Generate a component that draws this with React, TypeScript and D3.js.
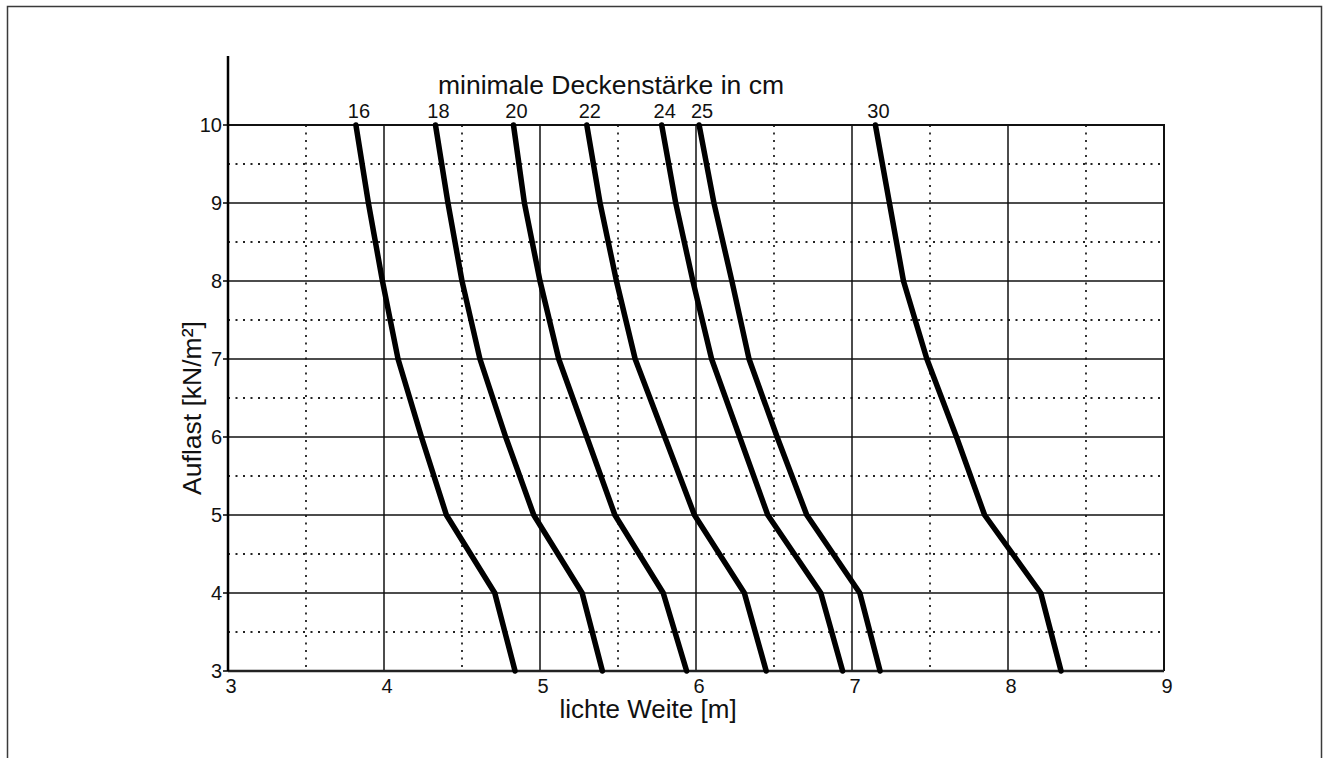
import React from "react"
import * as d3 from "d3"

// load levels (kN/m²) at which the span values were read
const loads = [10, 9, 8, 7, 6, 5, 4, 3]

const thicknesses = ["16", "18", "20", "22", "24", "25", "30"]

// lichte Weite [m] for each thickness, one value per load level
const span16 = [3.82, 3.9, 3.99, 4.09, 4.24, 4.4, 4.71, 4.84]
const span18 = [4.33, 4.41, 4.5, 4.615, 4.78, 4.96, 5.27, 5.4]
const span20 = [4.83, 4.9, 5.0, 5.12, 5.3, 5.48, 5.79, 5.94]
const span22 = [5.3, 5.385, 5.49, 5.61, 5.8, 5.99, 6.31, 6.45]
const span24 = [5.78, 5.87, 5.98, 6.1, 6.28, 6.46, 6.8, 6.94]
const span25 = [6.02, 6.115, 6.23, 6.34, 6.52, 6.71, 7.05, 7.18]
const span30 = [7.15, 7.24, 7.33, 7.48, 7.67, 7.85, 8.21, 8.34]

const spans = [span16, span18, span20, span22, span24, span25, span30]

const xTicks = [3, 4, 5, 6, 7, 8, 9]
const yTicks = [3, 4, 5, 6, 7, 8, 9, 10]
const xHalf = [3.5, 4.5, 5.5, 6.5, 7.5, 8.5]
const yHalf = [3.5, 4.5, 5.5, 6.5, 7.5, 8.5, 9.5]

const W = 1325
const H = 758
const font = "'Liberation Sans', Arial, sans-serif"

export default function App() {
  const x = d3.scaleLinear().domain([3, 9]).range([228, 1164])
  const y = d3.scaleLinear().domain([3, 10]).range([671, 125])

  const line = d3
    .line<[number, number]>()
    .x((d) => x(d[0]))
    .y((d) => y(d[1]))

  const x0 = x(3)
  const x1 = x(9)
  const y0 = y(3)
  const y1 = y(10)

  return (
    <div style={{ position: "absolute", left: 0, top: 0 }}>
      <svg width={W} height={H} style={{ display: "block", background: "#fff" }}>
        {/* outer frame */}
        <path
          d={`M7.5,${H} V6.5 H1321.5 V${H}`}
          fill="none"
          stroke="#3a3a3a"
          strokeWidth={1.5}
        />

        {/* dotted half grid */}
        {xHalf.map((v) => (
          <line
            key={"xh" + v}
            x1={x(v)}
            x2={x(v)}
            y1={y1}
            y2={y0}
            stroke="#222"
            strokeWidth={1.8}
            strokeDasharray="2,5.5"
          />
        ))}
        {yHalf.map((v) => (
          <line
            key={"yh" + v}
            x1={x0}
            x2={x1}
            y1={y(v)}
            y2={y(v)}
            stroke="#222"
            strokeWidth={1.8}
            strokeDasharray="2,5.5"
          />
        ))}

        {/* solid grid */}
        {xTicks.slice(1, -1).map((v) => (
          <line key={"xg" + v} x1={x(v)} x2={x(v)} y1={y1} y2={y0} stroke="#111" strokeWidth={1.5} />
        ))}
        {yTicks.slice(1, -1).map((v) => (
          <line key={"yg" + v} x1={x0} x2={x1} y1={y(v)} y2={y(v)} stroke="#111" strokeWidth={1.5} />
        ))}

        {/* plot frame */}
        <path d={`M${x0},${y1} H${x1} V${y0}`} fill="none" stroke="#111" strokeWidth={2} />
        <line x1={x0} x2={x1} y1={y0} y2={y0} stroke="#222" strokeWidth={2.5} />
        <line x1={x0} x2={x0} y1={56} y2={y0} stroke="#000" strokeWidth={2.5} />

        {/* y ticks */}
        {yTicks.map((v) => (
          <g key={"yt" + v}>
            <line x1={x0 - 5} x2={x0} y1={y(v)} y2={y(v)} stroke="#000" strokeWidth={1.5} />
            <text
              x={x0 - 6}
              y={y(v) + 7}
              textAnchor="end"
              fontFamily={font}
              fontSize={20}
              fill="#111"
            >
              {v}
            </text>
          </g>
        ))}

        {/* x ticks */}
        {xTicks.map((v) => (
          <text
            key={"xt" + v}
            x={x(v) + 3}
            y={y0 + 22}
            textAnchor="middle"
            fontFamily={font}
            fontSize={20}
            fill="#111"
          >
            {v}
          </text>
        ))}

        {/* curves */}
        {spans.map((s, i) => {
          const pts = s.map((v, j) => [v, loads[j]] as [number, number])
          return (
            <path
              key={"c" + i}
              d={line(pts) || ""}
              fill="none"
              stroke="#000"
              strokeWidth={5.5}
              strokeLinejoin="round"
              strokeLinecap="round"
            />
          )
        })}

        {/* curve labels */}
        {spans.map((s, i) => (
          <text
            key={"l" + i}
            x={x(s[0]) + 3}
            y={118}
            textAnchor="middle"
            fontFamily={font}
            fontSize={20}
            fill="#111"
          >
            {thicknesses[i]}
          </text>
        ))}

        <text x={611} y={94} textAnchor="middle" fontFamily={font} fontSize={26.5} fill="#111">
          minimale Deckenstärke in cm
        </text>

        <text x={648} y={718} textAnchor="middle" fontFamily={font} fontSize={26} fill="#111">
          lichte Weite [m]
        </text>

        <text
          transform="translate(201,408) rotate(-90)"
          textAnchor="middle"
          fontFamily={font}
          fontSize={26.5}
          fill="#111"
        >
          Auflast [kN/m²]
        </text>
      </svg>
    </div>
  )
}
